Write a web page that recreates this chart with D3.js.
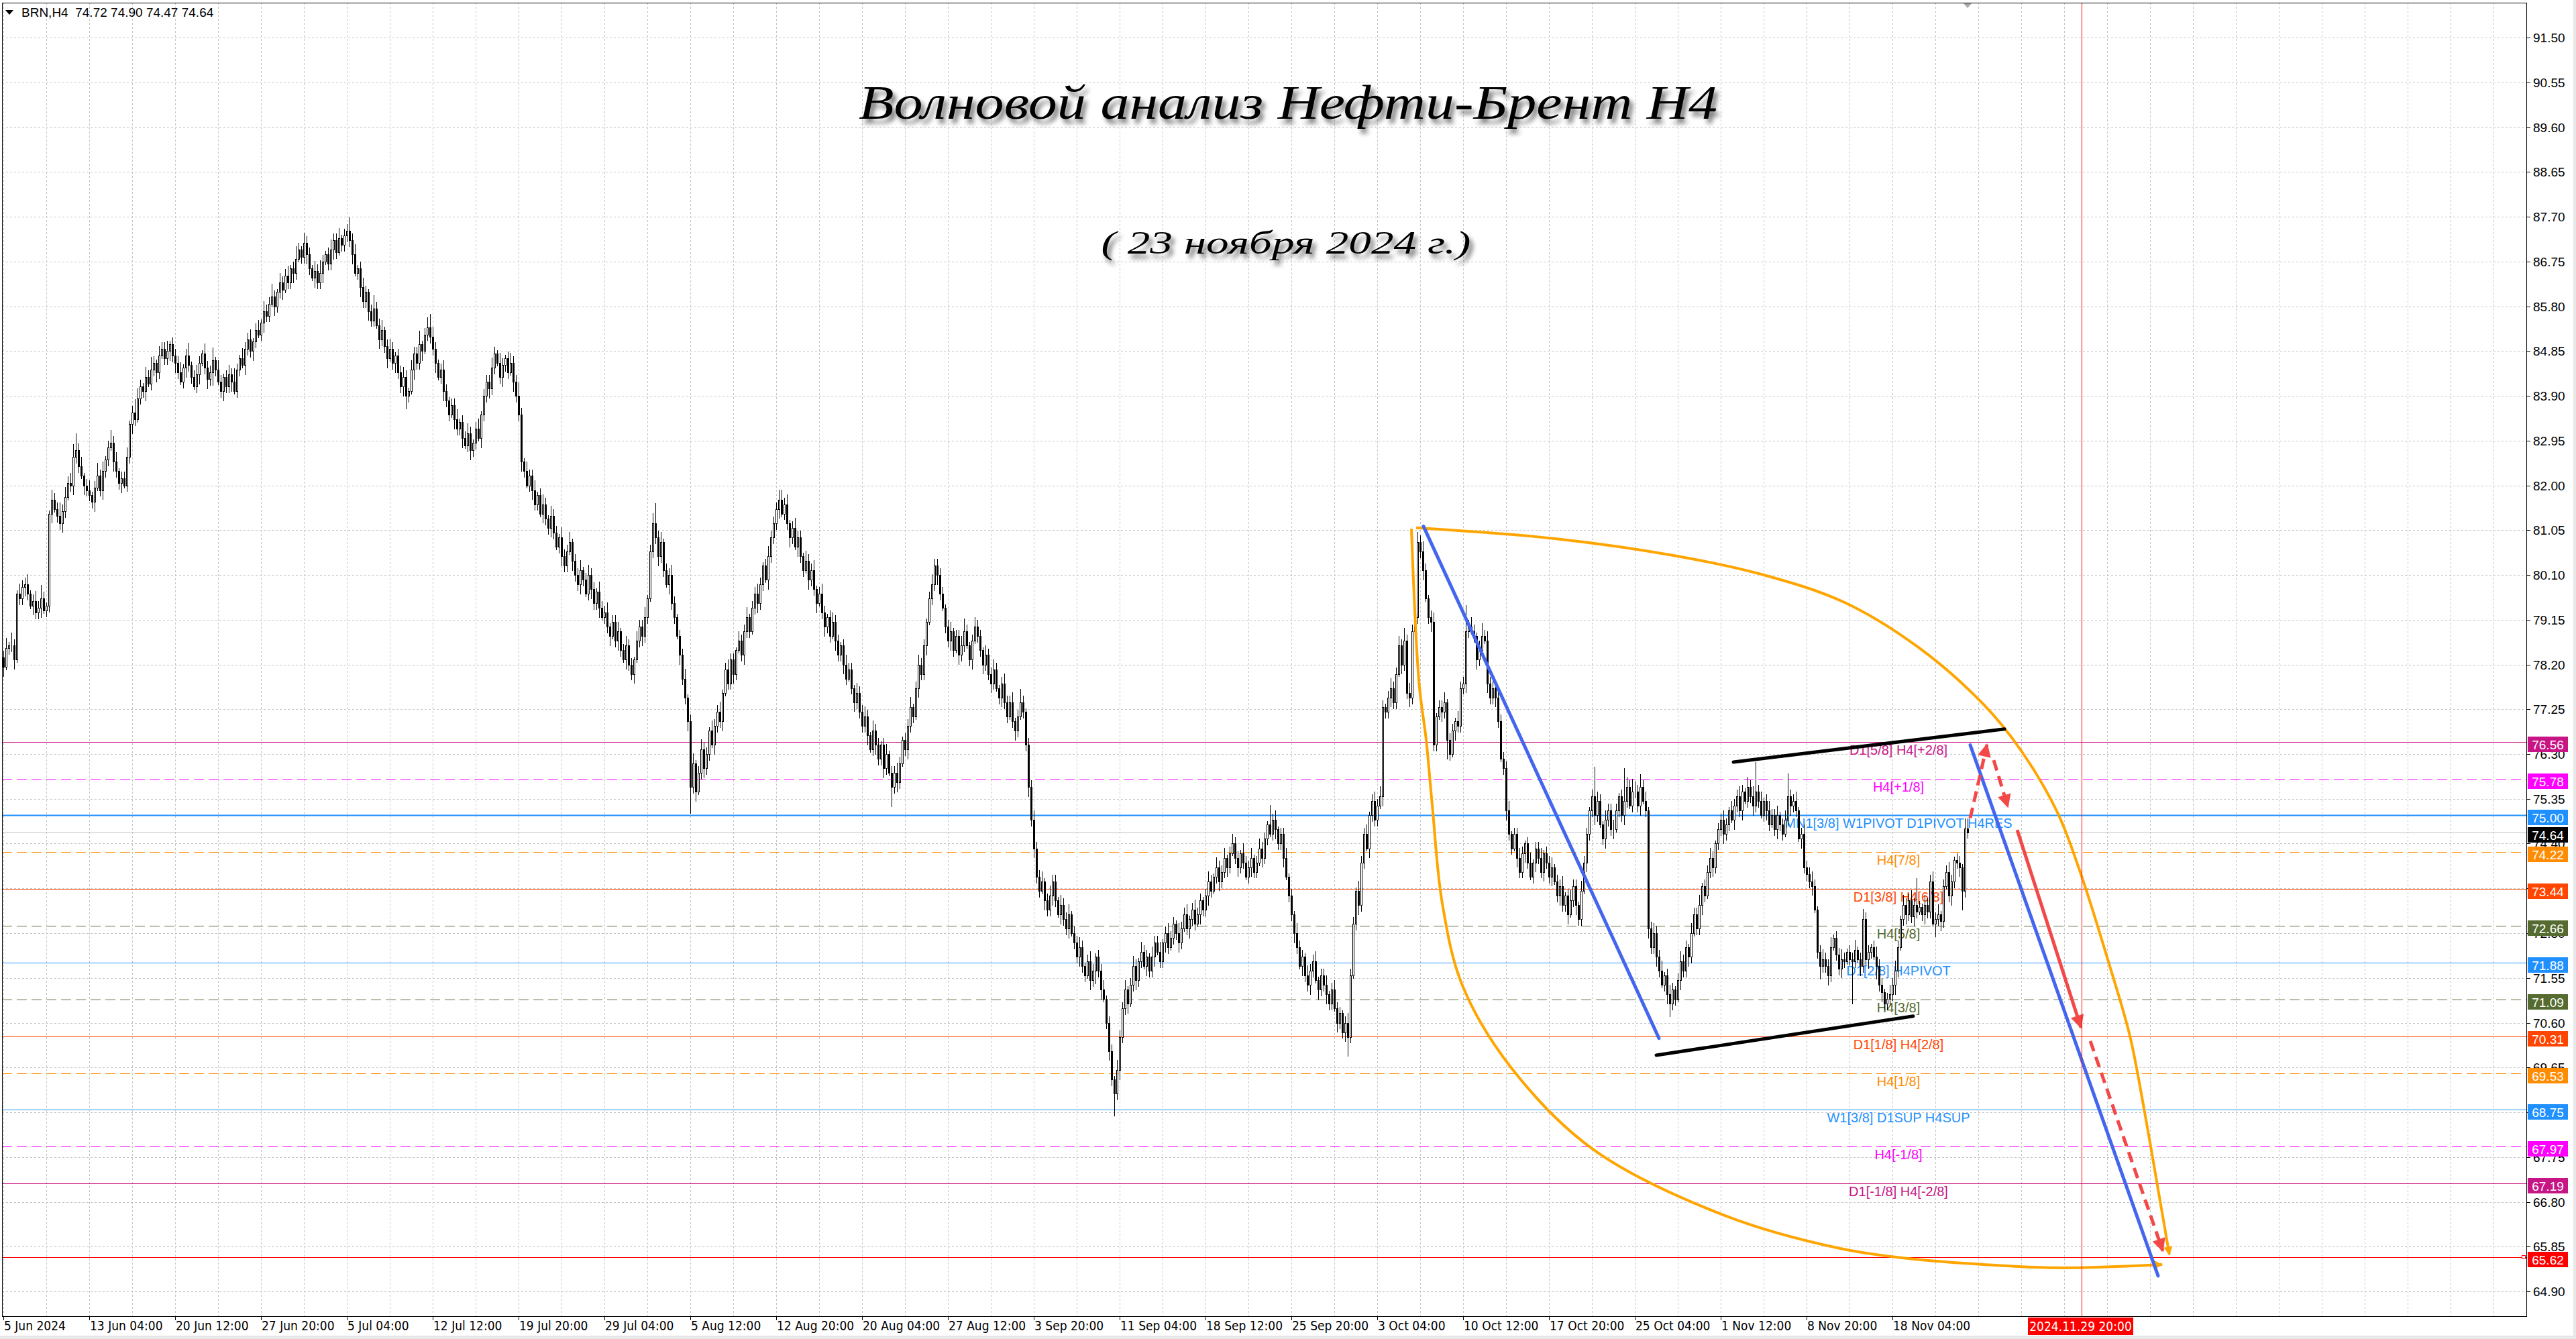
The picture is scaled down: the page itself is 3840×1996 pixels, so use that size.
<!DOCTYPE html>
<html><head><meta charset="utf-8">
<script src="https://cdn.jsdelivr.net/npm/d3@7"></script>
<style>html,body{margin:0;padding:0;background:#fff;overflow:hidden}svg{display:block}</style>
</head><body>
<svg id="c" width="3840" height="1996"></svg>
<script>
// ---------------- DATA ----------------
const symbolHeader = "BRN,H4  74.72 74.90 74.47 74.64";
const titleText = "Волновой анализ Нефти-Брент H4";
const subtitleText = "( 23 ноября 2024 г.)";
const firstOpen = 78.35;
const closes = [
78.15,78.55,78.6,78.6,78.3,79.7,79.6,79.85,79.9,79.7,79.45,79.55,79.3,79.4,79.6,79.35,79.45,81.4,81.7,81.5,81.35,81.2,81.45,81.75,82.05,82.0,82.6,82.75,82.4,82.2,82.0,81.9,
81.8,81.65,81.95,82.2,81.9,82.3,82.55,82.8,82.9,82.5,82.3,82.05,82.15,82.0,82.6,83.3,83.55,83.4,83.85,84.1,84.0,84.3,84.15,84.45,84.6,84.4,84.75,84.9,84.7,84.85,85.0,84.75,
84.6,84.4,84.2,84.5,84.75,84.55,84.3,84.1,84.35,84.6,84.8,84.5,84.25,84.4,84.65,84.45,84.2,84.0,84.3,84.1,84.35,84.2,84.0,84.45,84.7,84.55,84.9,85.1,84.85,85.05,85.3,85.2,
85.45,85.7,85.6,85.85,86.0,85.8,86.1,86.3,86.15,86.45,86.3,86.6,86.5,86.8,87.0,86.85,87.15,86.9,86.6,86.4,86.55,86.3,86.5,86.75,86.9,86.7,87.0,87.2,86.95,87.25,87.1,87.3,
87.4,87.2,86.9,86.5,86.6,86.2,85.9,86.1,85.7,85.5,85.75,85.4,85.1,85.3,84.95,84.7,84.9,84.6,84.75,84.4,84.1,84.3,83.9,84.0,84.45,84.8,84.6,85.0,84.85,85.2,85.35,85.15,
84.9,84.6,84.3,84.45,84.0,83.8,83.5,83.7,83.4,83.2,83.35,83.0,82.85,83.1,82.75,82.9,83.2,83.0,83.5,83.9,84.2,84.05,84.5,84.8,84.6,84.3,84.55,84.7,84.4,84.6,84.2,83.9,
83.5,82.5,82.3,82.0,82.2,81.9,81.6,81.8,81.4,81.6,81.3,81.1,81.35,81.0,80.7,80.9,80.5,80.3,80.6,80.8,80.4,80.1,79.9,80.2,80.0,79.7,80.1,79.8,79.5,79.75,79.4,79.2,
79.3,79.0,78.8,79.1,78.7,78.9,78.5,78.3,78.6,78.2,78.0,78.3,78.7,79.0,78.8,79.2,79.6,80.6,81.2,80.9,80.5,80.8,80.2,79.9,80.1,79.5,79.2,78.8,78.4,77.9,77.5,77.0,
75.6,76.1,75.5,75.9,76.4,76.0,76.3,76.8,76.5,76.9,77.2,77.0,77.6,78.1,77.8,78.3,78.0,78.5,78.7,78.4,78.9,79.2,78.9,79.4,79.7,79.5,79.9,80.3,80.0,80.5,80.9,81.2,
81.5,81.7,81.4,81.6,81.2,80.9,81.1,80.7,80.9,80.5,80.2,80.4,80.0,80.2,79.8,79.5,79.7,79.3,79.0,79.2,78.8,79.1,78.7,78.4,78.6,78.2,77.9,78.1,77.7,77.4,77.6,77.2,
76.9,77.1,76.7,76.4,76.8,76.5,76.2,76.5,76.0,76.3,75.9,75.6,75.9,75.7,76.1,76.6,76.4,76.9,77.3,77.1,77.7,78.2,78.0,78.6,79.1,79.6,79.9,80.3,80.1,79.7,79.4,79.0,
78.7,78.9,78.5,78.8,78.4,78.6,78.9,78.6,78.3,78.7,79.0,78.8,78.5,78.2,78.4,78.0,77.8,78.1,77.7,77.5,77.8,77.4,77.1,77.4,77.0,76.8,77.1,77.4,77.2,76.5,75.6,74.9,
74.3,73.7,73.4,73.6,73.2,73.0,73.3,73.6,73.2,72.9,73.1,72.8,72.6,72.9,72.5,72.3,72.0,72.2,71.8,71.6,71.9,71.5,71.7,72.0,71.7,71.3,71.1,70.6,70.0,69.4,69.1,69.6,
70.3,70.9,71.3,71.0,71.4,71.8,71.5,71.9,72.1,71.8,72.0,71.7,72.0,72.3,72.1,71.9,72.3,72.5,72.2,72.4,72.7,72.5,72.3,72.6,72.9,72.6,72.8,73.0,72.7,72.9,73.2,73.0,
73.3,73.6,73.4,73.7,73.9,73.6,73.8,74.1,73.9,74.2,74.4,74.1,73.9,74.2,74.0,73.7,73.9,74.1,73.8,74.0,74.3,74.1,74.5,74.8,74.6,74.9,74.7,74.4,74.6,74.1,73.7,73.3,
72.9,72.5,72.2,71.8,72.0,71.6,71.4,71.7,71.9,71.5,71.3,71.6,71.4,71.2,71.0,71.3,70.9,70.6,70.8,70.4,70.6,70.3,71.6,72.7,73.4,73.1,74.0,74.6,74.3,75.0,75.3,74.9,
75.2,75.4,77.3,77.2,77.5,77.7,77.4,78.0,78.6,78.2,78.7,77.6,77.5,78.9,79.2,80.8,80.6,80.2,79.6,79.2,79.1,76.5,77.1,77.3,77.2,77.4,76.6,76.3,76.8,77.0,76.9,77.7,
77.8,78.9,79.0,78.9,78.8,78.3,78.5,78.8,78.7,77.8,77.5,77.7,77.5,77.0,76.2,76.0,75.1,74.6,74.3,74.6,74.1,73.8,74.2,74.4,74.0,73.7,74.0,74.3,74.1,73.8,74.2,74.0,
73.7,73.9,73.6,73.3,73.5,73.1,73.3,72.9,73.2,73.5,73.1,72.8,73.4,74.0,74.6,75.1,75.4,75.0,75.3,74.8,74.5,74.9,75.1,74.7,74.7,75.1,75.4,75.0,75.3,75.6,75.2,75.5,
75.5,75.2,75.6,75.3,75.1,72.6,72.2,72.5,72.0,71.7,71.4,71.6,71.2,71.0,71.3,71.1,71.5,71.9,71.7,72.2,72.0,72.5,72.9,72.6,73.1,73.5,73.3,73.8,74.1,73.9,74.4,74.7,
74.9,74.6,74.8,75.1,74.9,75.2,75.4,75.1,75.5,75.3,75.6,75.4,75.2,75.5,75.3,75.0,75.3,75.1,74.8,75.0,74.7,75.0,74.8,74.6,74.9,75.4,75.2,75.3,75.1,74.5,74.6,73.9,
73.75,73.6,73.5,73.0,72.1,71.8,71.95,71.8,71.6,72.2,72.4,72.05,71.75,71.95,71.9,72.1,71.95,71.9,72.15,71.95,71.8,72.8,71.95,72.1,72.2,72.0,71.8,71.4,71.25,71.0,71.1,71.2,
71.4,71.7,72.2,72.8,73.1,72.9,73.2,72.85,73.1,72.95,73.05,72.9,73.1,72.95,73.6,72.7,72.8,72.9,72.75,73.5,73.8,73.3,73.6,74.05,74.0,73.9,73.4,74.72,74.64
];
// upper / lower shadow lengths, in steps of 0.07
const wickUp = [
2,3,1,4,2,1,3,2,2,3,1,2,3,2,4,2,1,1,3,2,2,4,2,3,2,3,4,5,2,3,1,2,
3,1,2,4,2,3,1,2,4,2,3,1,2,2,3,1,2,4,3,2,1,3,2,4,2,1,3,2,2,3,1,2,
2,2,3,1,2,4,1,2,3,2,1,3,2,2,4,1,3,2,1,2,3,2,4,2,1,3,2,2,3,1,2,3,
1,3,2,2,4,2,1,3,2,2,3,1,2,4,2,1,3,2,2,1,3,2,4,2,1,2,3,2,2,3,1,2,
2,4,2,3,1,2,3,2,1,2,4,2,2,3,1,2,3,2,1,2,2,3,2,1,3,2,2,4,1,2,3,4,
3,2,1,2,3,2,1,2,2,3,1,2,2,3,2,1,2,3,1,2,2,2,3,2,1,3,2,1,2,3,2,2,
4,2,1,3,2,2,3,1,2,3,2,1,3,2,2,1,3,2,2,3,1,2,2,3,1,2,3,2,2,1,3,2,
2,3,1,2,2,3,1,2,3,2,2,1,3,2,2,3,1,2,3,6,2,3,1,2,2,3,2,1,2,2,3,1,
2,3,1,2,3,2,2,1,3,2,2,3,1,2,3,2,2,1,3,2,2,3,1,2,2,3,2,1,2,3,2,2,
2,3,3,2,3,1,2,3,2,2,1,3,2,2,3,1,2,3,2,1,2,3,2,2,1,2,3,2,2,1,3,2,
2,3,2,1,3,2,2,1,2,3,1,2,2,3,2,1,2,2,3,1,2,3,2,2,1,2,3,2,2,2,2,1,
2,3,1,2,2,3,4,2,1,2,3,2,2,1,3,2,2,3,2,1,2,3,2,2,3,1,2,4,2,1,2,2,
3,2,2,3,1,2,3,2,2,1,3,2,2,3,1,2,2,3,2,1,2,3,2,1,2,2,3,1,2,2,1,3,
2,2,3,1,2,3,2,1,3,2,2,1,3,2,2,3,1,2,3,2,2,1,3,2,2,3,1,2,3,2,2,1,
2,3,2,1,3,2,2,3,1,2,3,2,2,1,3,2,2,3,1,2,3,2,2,1,6,2,3,1,2,2,3,1,
2,1,3,2,2,1,3,2,2,3,1,2,2,3,1,2,3,2,2,1,2,3,2,2,1,3,2,2,3,1,2,3,
2,3,2,1,2,3,2,2,3,2,4,2,3,2,1,3,2,3,2,1,2,3,1,2,2,3,1,2,2,1,3,2,
2,8,2,3,2,1,3,4,2,3,2,2,1,3,2,2,2,3,1,2,2,3,2,1,2,3,1,2,2,3,1,2,
2,3,1,2,2,3,1,2,3,2,2,1,3,2,2,1,2,9,3,2,1,3,2,2,3,2,1,2,10,3,2,4,
3,2,4,2,3,1,2,3,2,2,3,1,2,3,2,1,2,3,2,2,1,3,2,2,3,1,2,2,3,2,1,2,
2,3,2,1,3,2,2,3,2,1,3,2,3,9,2,3,1,2,3,2,2,3,1,2,3,7,2,2,3,1,2,3,
2,2,3,2,1,2,3,2,2,3,1,2,2,3,2,1,2,2,3,1,2,3,2,2,1,2,3,2,2,1,2,3,
2,3,2,1,3,2,2,3,2,8,2,1,3,2,2,3,2,3,1,2,2,3,2,1,2,2,1,3,3
];
const wickDn = [
3,1,2,2,3,1,2,2,3,2,1,3,2,2,3,1,2,2,3,1,2,2,3,2,1,2,3,2,2,1,3,2,
2,2,3,1,2,3,2,2,1,3,2,2,3,1,2,2,3,2,1,2,2,3,1,2,2,3,2,1,2,2,3,2,
3,2,1,2,3,2,2,1,2,3,1,2,3,2,4,2,1,2,3,2,2,3,1,2,2,1,3,2,2,3,2,1,
2,3,2,2,1,3,2,2,3,1,2,2,3,2,1,2,2,3,2,1,3,2,2,3,1,2,2,3,2,1,2,2,
2,2,3,1,2,3,2,2,3,2,2,1,3,2,2,3,1,2,3,2,2,3,4,2,1,3,2,2,3,1,2,2,
2,3,1,2,3,2,2,1,3,2,2,3,1,2,3,2,2,1,3,2,2,3,2,2,1,2,3,2,2,1,3,2,
2,3,2,1,2,3,2,2,1,3,2,2,3,2,1,2,3,2,2,1,3,2,2,3,2,1,2,3,2,2,3,1,
2,2,3,1,2,3,2,1,3,2,2,3,1,2,3,2,2,1,2,2,3,2,2,1,3,2,2,1,3,2,2,3,
8,2,3,1,2,3,2,2,1,3,2,2,3,1,2,2,3,2,1,2,3,2,2,1,2,3,2,2,1,3,2,2,
2,3,1,2,2,3,2,1,3,2,2,1,3,2,2,3,1,2,3,2,2,1,3,2,2,3,2,1,2,3,2,2,
2,2,3,1,2,3,2,2,3,2,1,6,2,3,2,1,2,3,2,2,1,3,2,2,3,1,2,2,3,2,1,2,
2,3,2,1,3,2,2,1,2,3,1,2,2,3,2,2,3,2,1,2,3,2,2,1,2,3,2,1,2,2,3,2,
3,2,2,1,3,2,2,3,2,1,3,2,2,3,1,2,2,3,2,2,1,3,2,4,2,3,1,2,3,2,7,2,
3,2,2,3,1,2,3,2,2,1,3,2,2,3,1,2,2,3,2,1,2,2,3,2,1,2,3,2,2,1,3,2,
2,3,2,1,2,3,2,2,3,2,1,2,3,2,2,1,2,3,2,2,1,3,2,2,1,2,3,2,2,3,1,2,
2,3,2,1,3,2,2,3,2,1,3,2,2,3,2,2,1,3,2,2,3,6,2,1,2,3,2,2,1,3,2,2,
2,1,3,2,2,3,2,2,1,3,2,2,3,2,1,2,2,3,1,2,3,2,2,1,3,2,6,2,1,3,2,2,
2,3,2,1,2,3,2,2,1,3,2,2,3,2,1,2,3,2,2,1,3,2,2,3,2,1,2,3,2,2,3,2,
2,3,1,2,3,2,2,3,1,2,3,2,2,1,3,2,2,3,2,1,2,3,2,2,3,1,2,2,3,2,1,2,
2,2,3,1,2,3,2,2,3,2,1,2,3,4,2,2,1,3,2,2,3,2,1,2,2,3,2,1,2,3,2,2,
2,3,2,2,1,3,2,2,3,1,2,2,3,2,2,1,2,3,2,1,2,3,2,2,1,2,3,2,2,1,3,2,
2,2,3,1,2,4,2,2,3,2,1,2,2,3,2,1,2,13,2,1,3,2,2,3,2,1,4,2,3,2,2,2,
2,3,2,1,2,3,2,2,3,2,1,2,3,2,2,1,4,2,3,2,1,2,3,2,2,3,6,2,2
];
const yTickLabels = ["91.50","90.55","89.60","88.65","87.70","86.75","85.80","84.85","83.90","82.95","82.00","81.05","80.10","79.15","78.20","77.25","76.30","75.35","74.40","73.45","72.50","71.55","70.60","69.65","68.70","67.75","66.80","65.85","64.90"];
const xTickLabels = ["5 Jun 2024","13 Jun 04:00","20 Jun 12:00","27 Jun 20:00","5 Jul 04:00","12 Jul 12:00","19 Jul 20:00","29 Jul 04:00","5 Aug 12:00","12 Aug 20:00","20 Aug 04:00","27 Aug 12:00","3 Sep 20:00","11 Sep 04:00","18 Sep 12:00","25 Sep 20:00","3 Oct 04:00","10 Oct 12:00","17 Oct 20:00","25 Oct 04:00","1 Nov 12:00","8 Nov 20:00","18 Nov 04:00"];
const futureLabel = "2024.11.29 20:00";
const futureBar = 774.5;
const levelPrices = [76.56,75.78,75.00,74.22,73.44,72.66,71.88,71.09,70.31,69.53,68.75,67.97,67.19,65.62];
const levelTexts = ["D1[5/8] H4[+2/8]","H4[+1/8]","MN1[3/8] W1PIVOT D1PIVOT H4RES","H4[7/8]","D1[3/8] H4[6/8]","H4[5/8]","D1[2/8] H4PIVOT","H4[3/8]","D1[1/8] H4[2/8]","H4[1/8]","W1[3/8] D1SUP H4SUP","H4[-1/8]","D1[-1/8] H4[-2/8]",""];
const lastPrice = 74.64;
// drawn objects, in (bar index, price)
const arcUpper = [[526.5,81.10],[578.3,80.87],[622.75,80.51],[656,80.10],[686,79.52],[713.75,78.56],[738,77.35],[752,76.37],[765.5,75.06],[774.25,73.75],[785,71.80],[792.5,70.32],[798,68.70],[803.5,66.90],[807.2,65.68]];
const arcLower = [[524.75,81.08],[527.6,77.8],[530.25,76.6],[532.5,75.22],[536.25,73.13],[543.75,71.39],[562,69.64],[592.75,67.9],[641.5,66.51],[684.5,65.81],[711,65.59],[738,65.47],[765.5,65.40],[804.5,65.47]];
const blueLines = [[[529.25,81.13],[617,70.27]],[[733,76.49],[803,65.23]]];
const blackLines = [[[644.75,76.13],[745.75,76.83]],[[616,69.91],[711.75,70.74]]];
const redArrows = [[[733,74.94],[739.25,76.50]],[[741.75,76.17],[747,75.18]],[[750.5,74.69],[774.25,70.50]],[[777.75,70.21],[804.75,65.76]]];
const redDashed = [true,true,false,true];

// ---------------- STYLES ----------------
const levelColors = ["#C71585","#FF00FF","#1E90FF","#FF8C00","#FF4500","#556B2F","#1E90FF","#556B2F","#FF4500","#FF8C00","#1E90FF","#FF00FF","#C71585","#FF0000"];
const levelDash = [false,true,false,true,false,true,false,true,false,true,false,true,false,false];
const levelWidth = [1,1,2,1,1,1,1,1,1,1,1,1,1,1];
const FONT = "'Liberation Sans', Arial, sans-serif";
const NARROW = "'Liberation Sans Narrow','DejaVu Sans Condensed','Liberation Sans',sans-serif";
const WICK_STEP = 0.07;

// ---------------- CHART ----------------
const W = 3840, H = 1996, PL = 3, PT = 4, PR = 3766, PB = 1962;
const svg = d3.select("#c");
const x = d3.scaleLinear().domain([0, 940.25]).range([5, 3766]);
const y = d3.scaleLinear().domain([64.90, 91.50]).range([1925, 56]);
const px = v => Math.round(v) + 0.5;

svg.append("rect").attr("width", W).attr("height", H).attr("fill", "#fff");
svg.append("rect").attr("x", 3836).attr("y", 0).attr("width", 4).attr("height", H).attr("fill", "#e8e8e8");
svg.append("rect").attr("x", 0).attr("y", 1991).attr("width", W).attr("height", 5).attr("fill", "#e8e8e8");

const defs = svg.append("defs");
defs.append("clipPath").attr("id", "plot").append("rect")
  .attr("x", PL).attr("y", PT).attr("width", PR - PL).attr("height", PB - PT);
const sh = defs.append("filter").attr("id", "shadow").attr("x", "-5%").attr("y", "-30%").attr("width", "115%").attr("height", "170%");
sh.append("feGaussianBlur").attr("in", "SourceAlpha").attr("stdDeviation", 3.5).attr("result", "b");
sh.append("feOffset").attr("in", "b").attr("dx", 5).attr("dy", 7).attr("result", "o");
sh.append("feComponentTransfer").attr("in", "o").attr("result", "o2").append("feFuncA").attr("type", "linear").attr("slope", 0.55);
const fm = sh.append("feMerge"); fm.append("feMergeNode").attr("in", "o2"); fm.append("feMergeNode").attr("in", "SourceGraphic");

function marker(id, color, w, h) {
  defs.append("marker").attr("id", id).attr("viewBox", "0 0 10 10").attr("refX", 9).attr("refY", 5)
    .attr("markerUnits", "userSpaceOnUse").attr("markerWidth", w).attr("markerHeight", h).attr("orient", "auto")
    .append("path").attr("d", "M0,0 L10,5 L0,10 Z").attr("fill", color);
}
marker("arrRed", "#F24848", 24, 20);
marker("arrOrange", "#FFA500", 16, 13);

const plot = svg.append("g").attr("clip-path", "url(#plot)");

// grid
const grid = plot.append("g").attr("stroke", "#c4c4c4").attr("stroke-width", 1).attr("stroke-dasharray", "3,3");
grid.selectAll("line.h").data(yTickLabels).join("line").attr("class", "h")
  .attr("x1", PL).attr("x2", PR).attr("y1", d => px(y(+d))).attr("y2", d => px(y(+d)));
grid.selectAll("line.v").data(d3.range(0, 929, 16)).join("line").attr("class", "v")
  .attr("x1", d => px(x(d))).attr("x2", d => px(x(d))).attr("y1", PT).attr("y2", PB);

// level lines
plot.append("line").attr("x1", PL).attr("x2", PR).attr("y1", px(y(lastPrice))).attr("y2", px(y(lastPrice)))
  .attr("stroke", "#c0c0c0").attr("stroke-width", 1);
plot.selectAll("line.lvl").data(levelPrices).join("line").attr("class", "lvl")
  .attr("x1", PL).attr("x2", PR)
  .attr("y1", d => px(y(d))).attr("y2", d => px(y(d)))
  .attr("stroke", (d, i) => levelColors[i]).attr("stroke-width", (d, i) => levelWidth[i])
  .attr("stroke-dasharray", (d, i) => levelDash[i] ? "15,7" : null);
plot.selectAll("text.lvl").data(levelPrices).join("text").attr("class", "lvl")
  .attr("x", x(706.25)).attr("y", d => Math.round(y(d)) + 19)
  .attr("text-anchor", "middle").attr("font-family", FONT).attr("font-size", 20)
  .attr("fill", (d, i) => levelColors[i]).text((d, i) => levelTexts[i]);

// candles
const N = closes.length;
const opens = closes.map((c, i) => i === 0 ? firstOpen : closes[i - 1]);
const highs = closes.map((c, i) => Math.max(opens[i], c) + wickUp[i] * WICK_STEP);
const lows = closes.map((c, i) => Math.min(opens[i], c) - wickDn[i] * WICK_STEP);
const cg = plot.append("g");
const idx = d3.range(N);
cg.selectAll("line").data(idx).join("line")
  .attr("x1", i => Math.round(x(i)) + 0.5).attr("x2", i => Math.round(x(i)) + 0.5)
  .attr("y1", i => Math.round(y(highs[i]))).attr("y2", i => Math.round(y(lows[i])))
  .attr("stroke", "#000").attr("stroke-width", 1);
cg.selectAll("rect").data(idx).join("rect")
  .attr("x", i => Math.round(x(i)) - 0.5).attr("width", 2)
  .attr("y", i => Math.round(y(Math.max(opens[i], closes[i]))) + 0.5)
  .attr("height", i => Math.max(0, Math.round(y(Math.min(opens[i], closes[i]))) - Math.round(y(Math.max(opens[i], closes[i])))))
  .attr("fill", i => closes[i] >= opens[i] ? "#fff" : "#000")
  .attr("stroke", "#000").attr("stroke-width", 1);

// drawings
const line = d3.line().x(d => x(d[0])).y(d => y(d[1]));
const curve = d3.line().x(d => x(d[0])).y(d => y(d[1])).curve(d3.curveCatmullRom.alpha(0.5));
plot.append("path").attr("d", curve(arcUpper)).attr("fill", "none").attr("stroke", "#FFA500").attr("stroke-width", 4).attr("marker-end", "url(#arrOrange)");
plot.append("path").attr("d", curve(arcLower)).attr("fill", "none").attr("stroke", "#FFA500").attr("stroke-width", 4).attr("marker-end", "url(#arrOrange)");
plot.selectAll("path.blue").data(blueLines).join("path").attr("class", "blue")
  .attr("d", line).attr("stroke", "#4466EE").attr("stroke-width", 5).attr("stroke-linecap", "round").attr("fill", "none");
plot.selectAll("path.black").data(blackLines).join("path").attr("class", "black")
  .attr("d", line).attr("stroke", "#000").attr("stroke-width", 5).attr("stroke-linecap", "round").attr("fill", "none");
plot.selectAll("path.red").data(redArrows).join("path").attr("class", "red")
  .attr("d", line).attr("stroke", "#F24848").attr("stroke-width", 5).attr("fill", "none")
  .attr("stroke-dasharray", (d, i) => redDashed[i] ? "16,9" : null)
  .attr("marker-end", "url(#arrRed)");

// future vertical line
plot.append("line").attr("x1", px(x(futureBar))).attr("x2", px(x(futureBar))).attr("y1", PT).attr("y2", PB)
  .attr("stroke", "#FF0000").attr("stroke-width", 1);
svg.append("rect").attr("x", 3759.5).attr("y", Math.round(y(65.62)) - 2.5).attr("width", 5).attr("height", 5)
  .attr("fill", "#fff").attr("stroke", "#FF0000").attr("stroke-width", 1);

// frame
svg.append("rect").attr("x", PL + 0.5).attr("y", PT + 0.5).attr("width", PR - PL).attr("height", PB - PT)
  .attr("fill", "none").attr("stroke", "#000").attr("stroke-width", 1);
svg.append("path").attr("d", `M${x(732) - 6},${PT + 1} L${x(732) + 6},${PT + 1} L${x(732)},${PT + 8} Z`).attr("fill", "#a8a8a8");

// right axis
const ra = svg.append("g");
ra.selectAll("line").data(yTickLabels).join("line")
  .attr("x1", PR).attr("x2", PR + 6).attr("y1", d => px(y(+d))).attr("y2", d => px(y(+d))).attr("stroke", "#000");
ra.selectAll("text").data(yTickLabels).join("text")
  .attr("x", 3776).attr("y", d => Math.round(y(+d)) + 7).attr("font-family", FONT).attr("font-size", 19)
  .attr("fill", "#000").text(d => d);
const boxes = svg.append("g");
const boxPrices = levelPrices.concat([lastPrice]);
const boxColors = levelColors.concat(["#000"]);
boxes.selectAll("rect").data(boxPrices).join("rect")
  .attr("x", 3768).attr("y", d => Math.round(y(d)) - 8).attr("width", 60).attr("height", 23)
  .attr("fill", (d, i) => boxColors[i]);
boxes.selectAll("text").data(boxPrices).join("text")
  .attr("x", 3798).attr("y", d => Math.round(y(d)) + 11).attr("text-anchor", "middle")
  .attr("font-family", FONT).attr("font-size", 19).attr("fill", "#fff").text(d => d.toFixed(2));

// bottom axis
const ba = svg.append("g");
ba.selectAll("line").data(xTickLabels).join("line")
  .attr("x1", (d, i) => px(x(i * 32))).attr("x2", (d, i) => px(x(i * 32))).attr("y1", PB).attr("y2", PB + 6).attr("stroke", "#000");
ba.selectAll("text").data(xTickLabels).join("text")
  .attr("x", (d, i) => x(i * 32) + 1).attr("y", 1983).attr("font-family", NARROW).attr("font-size", 19)
  .attr("fill", "#000").text(d => d);
ba.append("rect").attr("x", x(futureBar) - 80).attr("y", 1964).attr("width", 157).attr("height", 26).attr("fill", "#FF0000");
ba.append("text").attr("x", x(futureBar) - 1.5).attr("y", 1984).attr("text-anchor", "middle")
  .attr("font-family", NARROW).attr("font-size", 19).attr("fill", "#fff").text(futureLabel);

// header
svg.append("path").attr("d", "M8,15 L20,15 L14,22 Z").attr("fill", "#000");
svg.append("text").attr("x", 32).attr("y", 25).attr("font-family", FONT).attr("font-size", 19)
  .attr("fill", "#000").attr("xml:space", "preserve").style("white-space", "pre").text(symbolHeader);

// titles
svg.append("text").attr("x", 1920).attr("y", 177).attr("text-anchor", "middle")
  .attr("font-family", "'Liberation Serif', 'DejaVu Serif', serif").attr("font-style", "italic")
  .attr("font-size", 72).attr("textLength", 1280).attr("lengthAdjust", "spacingAndGlyphs")
  .attr("fill", "#000").attr("filter", "url(#shadow)").text(titleText);
svg.append("text").attr("x", 1917).attr("y", 378).attr("text-anchor", "middle")
  .attr("font-family", "'Liberation Serif', 'DejaVu Serif', serif").attr("font-style", "italic")
  .attr("font-size", 48).attr("textLength", 551).attr("lengthAdjust", "spacingAndGlyphs")
  .attr("fill", "#000").attr("filter", "url(#shadow)").text(subtitleText);
</script>
</body></html>
